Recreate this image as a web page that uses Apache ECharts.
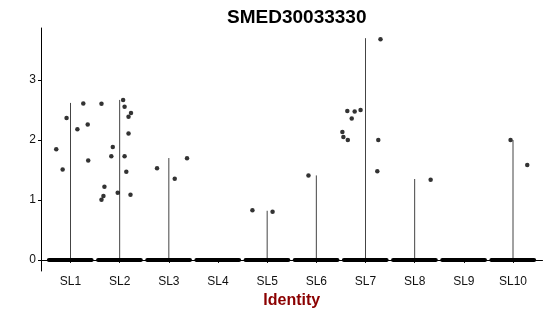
<!DOCTYPE html>
<html lang="en">
<head>
    <meta charset="UTF-8">
    <title>SMED30033330</title>
    <script src="https://cdn.jsdelivr.net/npm/echarts@6/dist/echarts.min.js"></script>
</head>
<body style="margin:0">

    <div id="app" style="width: 550px;height: 316px;"></div>

    <script>
        const categories = ['SL1', 'SL2', 'SL3', 'SL4', 'SL5', 'SL6', 'SL7', 'SL8', 'SL9', 'SL10'];
        const yTicks = [0, 1, 2, 3];

        // top of each (flattened) violin
        const violinMax = [2.62, 2.67, 1.70, 0, 0.82, 1.41, 3.70, 1.35, 0, 2.0];

        // horizontal extent of the dense band of zero-valued cells
        const zeroLo = [0.56, 1.56, 2.56, 3.56, 4.56, 5.56, 6.56, 7.56, 8.56, 9.56];
        const zeroHi = [1.43, 2.43, 3.43, 4.43, 5.43, 6.43, 7.43, 8.43, 9.43, 10.43];

        // jittered non-zero cells: [x position, expression]
        const points = [
            [0.71, 1.845], [0.84, 1.51], [0.92, 2.37], [1.14, 2.18], [1.26, 2.61], [1.35, 2.26], [1.36, 1.66],
            [1.63, 2.605], [2.07, 2.667], [2.10, 2.555], [2.23, 2.45], [2.18, 2.39], [2.18, 2.11],
            [1.86, 1.883], [1.83, 1.728], [2.10, 1.728], [2.135, 1.47], [1.69, 1.222], [1.67, 1.067],
            [1.63, 1.005], [1.96, 1.122], [2.22, 1.088],
            [2.76, 1.528], [3.12, 1.355], [3.37, 1.695],
            [4.70, 0.828], [5.11, 0.805],
            [5.84, 1.41],
            [7.305, 3.683], [6.63, 2.483], [6.78, 2.478], [6.90, 2.50], [6.72, 2.36], [6.53, 2.133],
            [6.55, 2.05], [6.64, 2.0], [7.26, 2.0], [7.24, 1.478],
            [8.325, 1.338],
            [9.95, 2.0], [10.29, 1.583]
        ];

        const series = [];
        categories.forEach((c, i) => {
            series.push({
                type: 'line',
                data: [[zeroLo[i], 0], [zeroHi[i], 0]],
                symbol: 'none',
                silent: true,
                lineStyle: { color: '#000', width: 4, cap: 'round' },
                z: 3
            });
            if (violinMax[i] > 0) {
                series.push({
                    type: 'line',
                    data: [[i + 1, 0], [i + 1, violinMax[i]]],
                    symbol: 'none',
                    silent: true,
                    lineStyle: { color: '#444', width: 1 },
                    z: 2
                });
            }
        });
        series.push({
            type: 'scatter',
            data: points,
            symbolSize: 4.5,
            itemStyle: { color: '#000' },
            z: 4
        });

        var myChart = echarts.init(document.getElementById('app'));

        var option = {
            animation: false,
            title: {
                text: 'SMED30033330',
                left: 291.75,
                textAlign: 'center',
                top: 3,
                textStyle: { fontFamily: 'Liberation Sans', fontSize: 19, fontWeight: 'bold', color: '#000' }
            },
            grid: { left: 41, right: 7.5, top: 28, bottom: 45 },
            xAxis: {
                type: 'value',
                min: 0.4,
                max: 10.6,
                splitLine: { show: false },
                name: 'Identity',
                nameLocation: 'middle',
                nameGap: 20,
                nameTextStyle: { fontFamily: 'Liberation Sans', fontSize: 16, fontWeight: 'bold', color: '#8B0000' },
                axisLine: { show: true, lineStyle: { color: '#000', width: 1 } },
                axisTick: { show: true, length: 3, lineStyle: { color: '#000' }, customValues: [1, 2, 3, 4, 5, 6, 7, 8, 9, 10] },
                axisLabel: {
                    margin: 5,
                    fontFamily: 'Liberation Sans',
                    fontSize: 12,
                    color: '#111',
                    customValues: [1, 2, 3, 4, 5, 6, 7, 8, 9, 10],
                    formatter: v => categories[Math.round(v) - 1]
                }
            },
            yAxis: {
                type: 'value',
                min: -0.185,
                max: 3.87,
                splitLine: { show: false },
                axisLine: { show: true, lineStyle: { color: '#000', width: 1 } },
                axisTick: { show: true, length: 3, lineStyle: { color: '#000' }, customValues: yTicks },
                axisLabel: {
                    margin: 5,
                    fontFamily: 'Liberation Sans',
                    fontSize: 12,
                    color: '#111',
                    customValues: yTicks
                }
            },
            series: series
        };

        myChart.setOption(option);
    </script>
</body>
</html>
